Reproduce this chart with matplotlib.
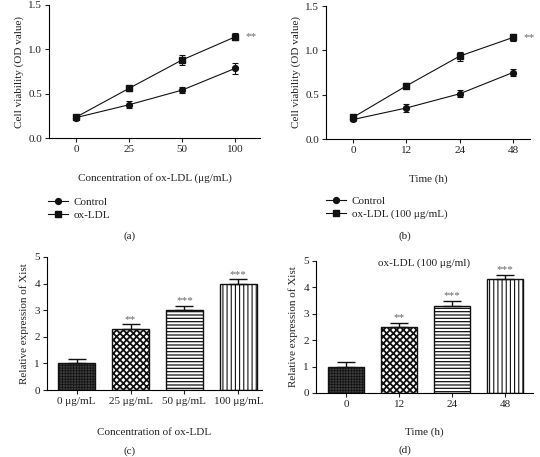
import numpy as np
import matplotlib
matplotlib.use("Agg")
import matplotlib.pyplot as plt
from matplotlib.lines import Line2D

plt.rcParams["font.family"] = ["Liberation Serif", "DejaVu Serif"]
plt.rcParams["font.size"] = 8
plt.rcParams["axes.linewidth"] = 0.8
plt.rcParams["xtick.major.width"] = 0.8
plt.rcParams["ytick.major.width"] = 0.8
plt.rcParams["xtick.major.size"] = 3
plt.rcParams["ytick.major.size"] = 3
plt.rcParams["text.color"] = "#222222"
plt.rcParams["axes.labelcolor"] = "#222222"
plt.rcParams["xtick.color"] = "#222222"
plt.rcParams["ytick.color"] = "#222222"

# (a) cell viability vs ox-LDL concentration
conc_labels = ["0", "25", "50", "100"]
ctrl_a = [0.23, 0.375, 0.54, 0.785]
ctrl_a_err = [0.02, 0.04, 0.03, 0.06]
oxldl_a = [0.235, 0.56, 0.88, 1.14]
oxldl_a_err = [0.02, 0.025, 0.06, 0.04]

# (b) cell viability vs time
time_labels = ["0", "12", "24", "48"]
ctrl_b = [0.22, 0.35, 0.51, 0.75]
ctrl_b_err = [0.02, 0.04, 0.04, 0.04]
oxldl_b = [0.245, 0.60, 0.935, 1.145]
oxldl_b_err = [0.02, 0.03, 0.05, 0.04]

# (c) Xist expression vs concentration
bar_c_labels = ["0 μg/mL", "25 μg/mL", "50 μg/mL", "100 μg/mL"]
xist_c = [1.0, 2.3, 3.0, 4.0]
xist_c_err = [0.18, 0.17, 0.16, 0.16]
stars_c = ["", "**", "***", "***"]

# (d) Xist expression vs time
bar_d_labels = ["0", "12", "24", "48"]
xist_d = [1.0, 2.5, 3.3, 4.3]
xist_d_err = [0.17, 0.17, 0.18, 0.17]
stars_d = ["", "**", "***", "***"]

W, H = 540, 457
fig = plt.figure(figsize=(W / 100, H / 100), dpi=100)


def ax_at(x0, y0, x1, y1):
    # pixel box (left, top, right, bottom) -> axes
    return fig.add_axes([x0 / W, 1 - y1 / H, (x1 - x0) / W, (y1 - y0) / H])


def style(ax):
    ax.spines["top"].set_visible(False)
    ax.spines["right"].set_visible(False)
    ax.tick_params(direction="out", pad=2)


def line_panel(ax, labels, ctrl, ctrl_err, ox, ox_err, xlim, ox_label, leg_xy):
    x = np.arange(len(labels))
    ax.errorbar(x, ctrl, yerr=ctrl_err, color="#111111", marker="o", ms=4.2,
                lw=0.8, capsize=2.2, elinewidth=0.8, capthick=0.8)
    ax.errorbar(x, ox, yerr=ox_err, color="#111111", marker="s", ms=4.2,
                lw=0.8, capsize=2.2, elinewidth=0.8, capthick=0.8)
    ax.text(x[-1] + 0.2, ox[-1], "**", color="#666666", fontsize=8,
            va="center", ha="left")
    ax.set_xlim(*xlim)
    ax.set_ylim(0, 1.5)
    ax.set_yticks([0, 0.5, 1.0, 1.5])
    ax.set_yticklabels(["0.0", "0.5", "1.0", "1.5"])
    ax.set_xticks(x)
    ax.set_xticklabels(labels)
    ax.set_ylabel("Cell viability (OD value)", labelpad=3)
    style(ax)
    h1 = Line2D([], [], color="#111111", marker="o", ms=4.2, lw=0.8)
    h2 = Line2D([], [], color="#111111", marker="s", ms=4.2, lw=0.8)
    fig.legend([h1, h2], ["Control", ox_label], loc="upper left",
               bbox_to_anchor=(leg_xy[0] / W, 1 - leg_xy[1] / H),
               frameon=False, handlelength=1.8, handletextpad=0.5,
               labelspacing=0.3, borderpad=0, borderaxespad=0, fontsize=8)


def bar_panel(ax, labels, vals, errs, stars, xlim):
    x = np.arange(len(labels))
    face = ["#3c3c3c", "white", "white", "white"]
    hatches = ["++++++", "xxxxx", "-----", "||||"]
    hlw = [0.5, 1.3, 0.9, 0.8]
    for i in range(len(x)):
        b = ax.bar(x[i], vals[i], width=0.68, color=face[i], edgecolor="#111111",
                   hatch=hatches[i], linewidth=1.0, zorder=2)
        for p in b:
            if hasattr(p, "set_hatch_linewidth"):
                p.set_hatch_linewidth(hlw[i])
        ax.errorbar(x[i], vals[i], yerr=[[0], [errs[i]]], color="#111111",
                    capsize=6.5, elinewidth=1.0, capthick=1.0, zorder=3)
        if stars[i]:
            ax.text(x[i], vals[i] + errs[i] + 0.02, stars[i], color="#666666",
                    ha="center", va="bottom", fontsize=8)
    ax.set_xlim(*xlim)
    ax.set_ylim(0, 5)
    ax.set_yticks([0, 1, 2, 3, 4, 5])
    ax.set_xticks(x)
    ax.set_xticklabels(labels)
    ax.set_ylabel("Relative expression of Xist", labelpad=4)
    style(ax)


ax_a = ax_at(49, 5, 260, 138)
line_panel(ax_a, conc_labels, ctrl_a, ctrl_a_err, oxldl_a, oxldl_a_err,
           (-0.51, 3.47), "ox-LDL", (48, 197))
ax_a.set_xlabel("Concentration of ox-LDL (μg/mL)", labelpad=14)

ax_b = ax_at(326, 6, 530, 139)
line_panel(ax_b, time_labels, ctrl_b, ctrl_b_err, oxldl_b, oxldl_b_err,
           (-0.51, 3.32), "ox-LDL (100 μg/mL)", (326, 196))
ax_b.set_xlabel("Time (h)", labelpad=14)

ax_c = ax_at(47, 257, 262, 390)
bar_panel(ax_c, bar_c_labels, xist_c, xist_c_err, stars_c, (-0.55, 3.44))
ax_c.set_xlabel("Concentration of ox-LDL", labelpad=16)

ax_d = ax_at(316, 261, 533, 393)
bar_panel(ax_d, bar_d_labels, xist_d, xist_d_err, stars_d, (-0.57, 3.53))
ax_d.set_xlabel("Time (h)", labelpad=13)
ax_d.text(0.5, 0.98, "ox-LDL (100 μg/ml)", transform=ax_d.transAxes,
          ha="center", va="center", fontsize=8)

for lab, px, py in [("(a)", 130, 236), ("(b)", 405, 236),
                    ("(c)", 130, 451), ("(d)", 405, 450)]:
    fig.text(px / W, 1 - py / H, lab, ha="center", va="center", fontsize=8)

fig.savefig("out.png", dpi=100)
